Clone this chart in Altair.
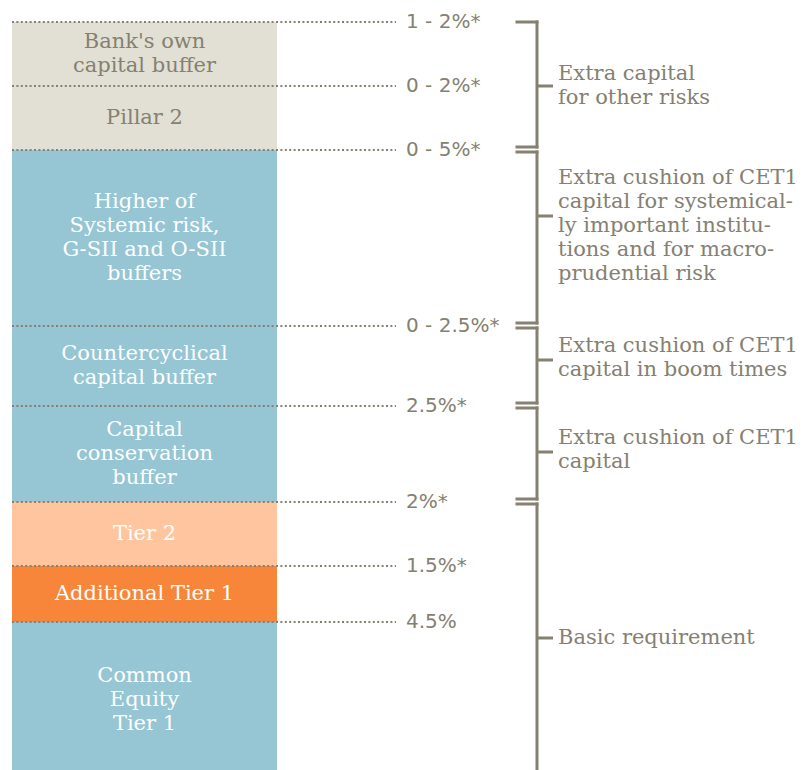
import altair as alt
import pandas as pd
import numpy as np

# ---- data ----
segments = [
    "Bank's own\ncapital buffer",
    "Pillar 2",
    "Higher of\nSystemic risk,\nG-SII and O-SII\nbuffers",
    "Countercyclical\ncapital buffer",
    "Capital\nconservation\nbuffer",
    "Tier 2",
    "Additional Tier 1",
    "Common\nEquity\nTier 1",
]
heights = [64, 64, 176, 80, 96, 64, 56, 156]          # drawing units (not proportional)
fills = ["#E2E0D4", "#E2E0D4", "#96C5D3", "#96C5D3", "#96C5D3",
         "#FFC59E", "#F7863B", "#96C5D3"]
label_colors = ["#858071", "#858071", "white", "white", "white",
                "white", "white", "white"]
rates = ["1 - 2%*", "0 - 2%*", "0 - 5%*", "0 - 2.5%*", "2.5%*", "2%*", "1.5%*", "4.5%"]

group_labels = [
    "Extra capital\nfor other risks",
    "Extra cushion of CET1\ncapital for systemical-\nly important institu-\ntions and for macro-\nprudential risk",
    "Extra cushion of CET1\ncapital in boom times",
    "Extra cushion of CET1\ncapital",
    "Basic requirement",
]
group_start = [0, 2, 3, 4, 5]
group_end = [2, 3, 4, 5, 8]
group_tick = [64, 194, 338, 430, 616]
group_text_y = [64, 204, 336, 428, 616]

GREY = "#858071"
SLAB = "DejaVu Serif"
SANS = "DejaVu Sans"
LH = 24

# ---- tables ----
def first_line(center, text):
    return center - (text.count("\n")) * LH / 2

bounds = np.concatenate([[0], np.cumsum(heights)])
mids = (bounds[:-1] + bounds[1:]) / 2
seg_df = pd.DataFrame({
    "label": segments,
    "top": bounds[:-1],
    "bottom": bounds[1:],
    "ty": [first_line(m, t) for m, t in zip(mids, segments)],
    "fill": fills,
    "tcolor": label_colors,
})
rate_df = pd.DataFrame({"rate": rates, "pos": bounds[:-1]})

g_top = [bounds[s] + (2 if s > 0 else 0) for s in group_start]
g_bot = [bounds[e] - 3 for e in group_end]
grp_df = pd.DataFrame({
    "label": group_labels,
    "top": g_top,
    "bottom": g_bot,
    "tick": group_tick,
    "ty": [first_line(c, t) for c, t in zip(group_text_y, group_labels)],
})
caps = pd.DataFrame({"pos": g_top[1:] + g_bot[:-1] + [g_top[0]]})

yscale = alt.Scale(domain=[-14, 756], reverse=True, nice=False, zero=False)

bars = alt.Chart(seg_df).mark_rect().encode(
    x=alt.value(4), x2=alt.value(269),
    y=alt.Y("top:Q", scale=yscale, axis=None), y2="bottom:Q",
    color=alt.Color("fill:N", scale=None),
)

seg_text = alt.Chart(seg_df).mark_text(
    font=SLAB, fontSize=21, lineBreak="\n", lineHeight=LH,
    align="center", baseline="middle",
).encode(
    x=alt.value(136.5),
    y=alt.Y("ty:Q", scale=yscale, axis=None),
    text="label:N",
    color=alt.Color("tcolor:N", scale=None),
)

dots = alt.Chart(rate_df).mark_rule(
    strokeDash=[2, 2.4], strokeWidth=2, color=GREY
).encode(
    x=alt.value(4), x2=alt.value(388),
    y=alt.Y("pos:Q", scale=yscale, axis=None),
)

rate_text = alt.Chart(rate_df).mark_text(
    font=SANS, fontSize=20, align="left", baseline="middle", color=GREY
).encode(
    x=alt.value(398),
    y=alt.Y("pos:Q", scale=yscale, axis=None),
    text="rate:N",
)

vlines = alt.Chart(grp_df).mark_rule(
    strokeWidth=3, color=GREY, strokeCap="square"
).encode(
    x=alt.value(529),
    y=alt.Y("top:Q", scale=yscale, axis=None), y2="bottom:Q",
)

cap_lines = alt.Chart(caps).mark_rule(
    strokeWidth=3, color=GREY, strokeCap="square"
).encode(
    x=alt.value(509), x2=alt.value(529),
    y=alt.Y("pos:Q", scale=yscale, axis=None),
)

ticks = alt.Chart(grp_df).mark_rule(strokeWidth=3, color=GREY).encode(
    x=alt.value(529), x2=alt.value(545),
    y=alt.Y("tick:Q", scale=yscale, axis=None),
)

grp_text = alt.Chart(grp_df).mark_text(
    font=SLAB, fontSize=21, lineBreak="\n", lineHeight=LH,
    align="left", baseline="middle", color=GREY,
).encode(
    x=alt.value(550),
    y=alt.Y("ty:Q", scale=yscale, axis=None),
    text="label:N",
)

chart = alt.layer(
    bars, dots, seg_text, rate_text, vlines, cap_lines, ticks, grp_text
).properties(
    width=796, height=770, padding=0,
    autosize=alt.AutoSizeParams(type="none"),
    background="white",
).configure_view(stroke=None)

chart.save("out.html", embed_options={"renderer": "svg", "actions": False})
